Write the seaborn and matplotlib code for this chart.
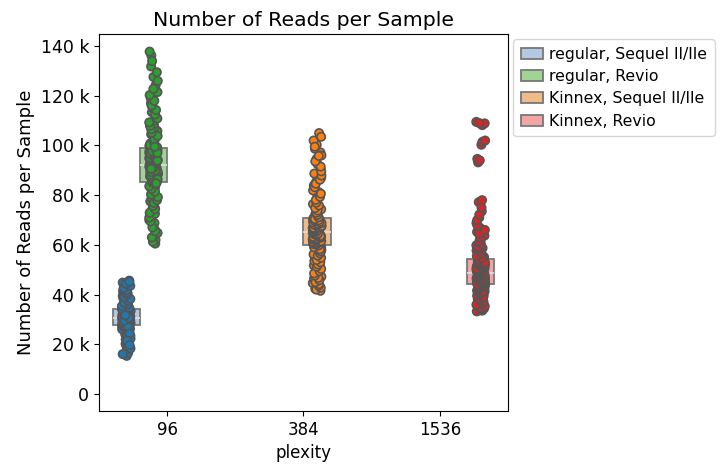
import numpy as np
import pandas as pd
import matplotlib
matplotlib.use("Agg")
import matplotlib.pyplot as plt
import matplotlib.ticker as mticker
import seaborn as sns

# reads per sample, in thousands (two batches per group)
reg_sequel = [15.3, 16.5, 17.8, 19.0, 20.1, 21.0, 21.9, 22.7, 23.4, 24.0, 24.6, 25.2, 25.7, 26.2, 26.7, 27.2, 27.6,
              28.0, 28.2, 28.3, 28.5, 28.6, 28.8, 28.9, 29.1, 29.2, 29.4, 29.5, 29.7, 29.8, 30.0, 30.1, 30.2, 30.4,
              30.5, 30.6, 30.8, 30.9, 31.1, 31.2, 31.4, 31.5, 31.7, 31.8, 32.0, 32.1, 32.3, 32.4, 32.6, 32.7, 32.9,
              33.0, 33.4, 33.9, 34.4, 35.0, 35.6, 36.3, 37.0, 37.8, 38.6, 39.5, 40.4, 41.3, 42.2, 43.1, 44.0, 44.8, 45.6,
              16.0, 18.3, 20.6, 22.2, 23.8, 25.0, 26.0, 26.9, 27.4, 27.9, 28.1, 28.4, 28.7, 29.0, 29.3, 29.6, 29.9,
              30.3, 30.7, 31.0, 31.3, 31.6, 31.9, 32.2, 32.5, 32.8, 33.2, 33.6, 34.1, 34.7, 35.3, 36.0, 36.7, 37.4,
              38.2, 39.0, 39.9, 40.8, 41.7, 42.6, 43.5, 44.4, 45.2, 27.0, 29.5, 30.6, 31.6, 24.3, 21.4, 19.6]
reg_revio = [60.5, 62.0, 63.4, 64.8, 66.1, 67.5, 68.8, 70.0, 71.3, 72.5, 73.8, 75.0, 76.3, 77.5, 78.6, 79.7, 80.8,
             81.9, 83.0, 84.1, 85.0, 85.4, 85.8, 86.1, 86.5, 86.9, 87.2, 87.6, 88.0, 88.3, 88.7, 89.1, 89.4, 89.8,
             90.2, 90.5, 90.9, 91.3, 91.6, 92.0, 92.3, 92.7, 93.1, 93.4, 93.8, 94.2, 94.5, 94.9, 95.3, 95.6, 96.0,
             96.4, 96.7, 97.1, 97.5, 97.8, 98.2, 98.5, 98.8, 99.0, 99.8, 100.9, 102.0, 103.2, 104.5, 105.8, 107.2,
             108.6, 110.1, 111.7, 113.4, 115.2, 117.0, 119.1, 121.5, 124.3, 127.6, 131.8, 136.2, 137.8,
             61.2, 63.0, 65.5, 67.0, 69.4, 71.0, 72.9, 74.4, 75.7, 76.9, 78.0, 79.2, 80.3, 81.4, 82.5, 83.6, 84.5,
             85.2, 85.6, 86.0, 86.3, 86.7, 87.1, 87.4, 87.8, 88.2, 88.5, 88.9, 89.3, 89.6, 90.0, 90.4, 90.7, 91.1,
             91.5, 91.8, 92.2, 92.5, 92.9, 93.3, 93.6, 94.0, 94.4, 94.7, 95.1, 95.5, 95.8, 96.2, 96.6, 96.9, 97.3,
             97.7, 98.0, 98.4, 98.7, 99.3, 100.3, 101.4, 102.6, 103.8, 105.1, 106.5, 107.9, 109.3, 110.9, 112.5,
             114.3, 116.1, 118.0, 120.3, 122.8, 126.0, 129.5, 134.0, 86.4, 90.6, 93.9, 97.0, 84.8, 99.5]
kin_sequel = [41.5, 42.3, 43.1, 43.8, 44.6, 45.4, 46.3, 47.2, 48.1, 49.0, 49.9, 50.8, 51.7, 52.6, 53.5, 54.4, 55.3,
              56.2, 57.0, 57.8, 58.6, 59.4, 60.0, 60.2, 60.5, 60.7, 60.9, 61.2, 61.4, 61.6, 61.9, 62.1, 62.3, 62.6,
              62.8, 63.0, 63.3, 63.5, 63.7, 64.0, 64.2, 64.4, 64.7, 64.9, 65.1, 65.4, 65.6, 65.8, 66.1, 66.3, 66.5,
              66.8, 67.0, 67.2, 67.5, 67.7, 67.9, 68.2, 68.4, 68.6, 68.9, 69.1, 69.3, 69.6, 69.8, 70.0, 70.7, 71.5,
              72.4, 73.3, 74.3, 75.3, 76.4, 77.5, 78.7, 79.9, 81.2, 82.5, 83.9, 85.4, 87.0, 88.7, 90.5, 92.5, 94.7,
              97.2, 100.3, 105.0,
              42.0, 42.7, 43.5, 44.2, 45.0, 45.8, 46.7, 47.6, 48.5, 49.4, 50.3, 51.2, 52.1, 53.0, 53.9, 54.8, 55.7,
              56.6, 57.4, 58.2, 59.0, 59.7, 60.1, 60.4, 60.6, 60.8, 61.1, 61.3, 61.5, 61.8, 62.0, 62.2, 62.5, 62.7,
              62.9, 63.2, 63.4, 63.6, 63.9, 64.1, 64.3, 64.6, 64.8, 65.0, 65.3, 65.5, 65.7, 66.0, 66.2, 66.4, 66.7,
              66.9, 67.1, 67.4, 67.6, 67.8, 68.1, 68.3, 68.5, 68.8, 69.0, 69.2, 69.5, 69.7, 69.9, 70.4, 71.1, 72.0,
              72.9, 73.8, 74.8, 75.9, 77.0, 78.1, 79.3, 80.6, 81.9, 83.2, 84.6, 86.2, 87.9, 89.6, 91.5, 93.6, 96.0,
              98.7, 102.0, 103.5, 99.5, 95.8]
kin_revio = [33.2, 33.8, 34.4, 35.0, 35.6, 36.2, 36.8, 37.4, 38.0, 38.6, 39.2, 39.7, 40.3, 40.8, 41.3, 41.8, 42.3,
             42.8, 43.3, 43.7, 44.0, 44.2, 44.5, 44.7, 44.9, 45.2, 45.4, 45.6, 45.9, 46.1, 46.3, 46.6, 46.8, 47.0,
             47.3, 47.5, 47.7, 48.0, 48.2, 48.4, 48.7, 48.9, 49.1, 49.4, 49.6, 49.8, 50.1, 50.3, 50.5, 50.8, 51.0,
             51.2, 51.5, 51.7, 51.9, 52.2, 52.4, 52.6, 52.8, 53.0, 53.6, 54.3, 55.1, 55.9, 56.8, 57.7, 58.7, 59.8,
             61.0, 62.3, 63.7, 65.2, 66.9, 68.8, 71.0, 73.5, 77.2, 93.2, 94.6, 100.3, 101.5, 108.2, 108.9, 109.5,
             33.5, 34.1, 34.7, 35.3, 35.9, 36.5, 37.1, 37.7, 38.3, 38.9, 39.5, 40.0, 40.6, 41.1, 41.6, 42.1, 42.6,
             43.0, 43.5, 43.9, 44.1, 44.4, 44.6, 44.8, 45.1, 45.3, 45.5, 45.8, 46.0, 46.2, 46.5, 46.7, 46.9, 47.2,
             47.4, 47.6, 47.9, 48.1, 48.3, 48.6, 48.8, 49.0, 49.3, 49.5, 49.7, 50.0, 50.2, 50.4, 50.7, 50.9, 51.1,
             51.4, 51.6, 51.8, 52.1, 52.3, 52.5, 52.7, 52.9, 53.3, 54.0, 54.7, 55.5, 56.3, 57.2, 58.2, 59.2, 60.4,
             61.6, 63.0, 64.4, 66.0, 67.8, 69.9, 72.2, 75.0, 78.0, 94.0, 102.0, 109.0]

plexity_order = ["96", "384", "1536"]
groups = ["regular, Sequel II/IIe", "regular, Revio", "Kinnex, Sequel II/IIe", "Kinnex, Revio"]
group_plexity = ["96", "96", "384", "1536"]
group_values = [reg_sequel, reg_revio, kin_sequel, kin_revio]

rows = []
for g, p, vals in zip(groups, group_plexity, group_values):
    for v in vals:
        rows.append({"plexity": p, "group": g, "reads": v * 1000})
df = pd.DataFrame(rows)

box_colors = ["#aec7e8", "#98df8a", "#ffbb78", "#ff9896"]
dot_colors = ["#1f77b4", "#2ca02c", "#ff7f0e", "#d62728"]

plt.rcParams["font.size"] = 12
np.random.seed(0)
fig = plt.figure(figsize=(7.2, 4.68), dpi=100)
ax = fig.add_axes([0.1375, 0.1218, 0.568, 0.8056])

sns.boxplot(data=df, x="plexity", y="reads", hue="group", order=plexity_order, hue_order=groups,
            palette=box_colors, showfliers=False, showcaps=False, linecolor="#777777", linewidth=1.3,
            medianprops={"color": "#dddddd"}, ax=ax)
sns.stripplot(data=df, x="plexity", y="reads", hue="group", order=plexity_order, hue_order=groups,
              palette=dot_colors, dodge=True, jitter=0.13, size=6, edgecolor="#555555", linewidth=1.2,
              legend=False, ax=ax)

ax.yaxis.set_major_formatter(mticker.EngFormatter())
ax.tick_params(axis="y", labelsize=12.5)
ax.set_ylim(-6.9e3, 144.9e3)
ax.set_title("Number of Reads per Sample", fontsize=14.7)
ax.set_ylabel("Number of Reads per Sample", fontsize=13)
ax.set_xlabel("plexity")
sns.move_legend(ax, "upper left", bbox_to_anchor=(1, 1), title=None, fontsize=11.3,
                borderaxespad=0.35, handlelength=1.4, handletextpad=0.35, labelspacing=0.45,
                borderpad=0.5)

fig.savefig("out.png", dpi=100)
